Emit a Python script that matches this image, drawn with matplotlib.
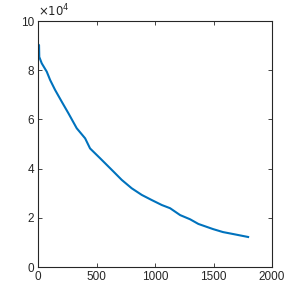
import matplotlib.pyplot as plt
from matplotlib.ticker import FuncFormatter

# --- values ---
x = [0, 8, 10, 31, 74, 103, 145, 202, 259, 330, 402, 444, 530, 587, 644, 715,
     800, 886, 972, 1057, 1128, 1214, 1299, 1370, 1496, 1580, 1667, 1795]
y = [90500, 90200, 85400, 82800, 79400, 76000, 72000, 67200, 62500, 56400,
     52300, 48200, 44200, 41500, 38800, 35400, 32000, 29300, 27200, 25200,
     23900, 21100, 19400, 17500, 15400, 14200, 13400, 12200]

xticks = [0, 500, 1000, 1500, 2000]
yticks = [0, 20000, 40000, 60000, 80000, 100000]

plt.rcParams['font.family'] = ['Liberation Sans', 'DejaVu Sans']
dark = '#262626'

fig = plt.figure(figsize=(3, 3), dpi=100)
ax = fig.add_axes([0.127, 0.11, 0.78, 0.82])
ax.plot(x, y, color='#0072BD', linewidth=1.5)

ax.set_xlim(0, 2000)
ax.set_ylim(0, 100000)
ax.set_xticks(xticks)
ax.set_yticks(yticks)
ax.yaxis.set_major_formatter(FuncFormatter(lambda v, p: f"{v / 1e4:g}"))
ax.tick_params(direction='in', length=3, width=0.6, colors=dark,
               labelsize=8.5, top=True, right=True, pad=3)
for s in ax.spines.values():
    s.set_color(dark)
    s.set_linewidth(0.8)

ax.text(0.0, 1.005, r'$\times 10^4$', transform=ax.transAxes, ha='left',
        va='bottom', fontsize=8.5, color=dark, fontfamily='Liberation Sans')

fig.savefig('out.png', dpi=100)
